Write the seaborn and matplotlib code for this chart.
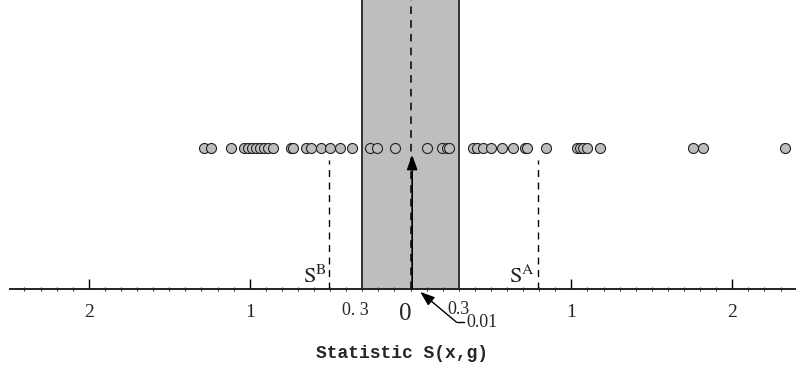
import matplotlib
matplotlib.use("Agg")
import matplotlib.pyplot as plt
import seaborn as sns
import numpy as np
import pandas as pd

# ---- data ----
stat_values = [-1.284, -1.240, -1.116, -1.035, -1.010, -0.985, -0.960, -0.935,
               -0.910, -0.886, -0.854, -0.742, -0.730, -0.649, -0.618, -0.556,
               -0.500, -0.438, -0.363, -0.251, -0.208, -0.095,
               0.104, 0.197, 0.228, 0.241, 0.390, 0.415, 0.452, 0.502, 0.571,
               0.639, 0.714, 0.726, 0.844, 1.037, 1.056, 1.075, 1.100, 1.180,
               1.759, 1.815, 2.325]
band_limits = [-0.3, 0.3]
s_b = -0.506
s_a = 0.79
observed = 0.01
major_ticks = [-2, -1, 1, 2]
major_labels = ["2", "1", "1", "2"]

sns.set_theme(style="white")
plt.rcParams["mathtext.fontset"] = "stix"
serif = ["Liberation Serif", "DejaVu Serif"]

fig = plt.figure(figsize=(8.01, 3.88), dpi=100)
ax = fig.add_axes([10 / 801, 1 - 289 / 388, 785 / 801, 289 / 388])
ax.set_xlim(-2.49, 2.39)
ax.set_ylim(0, 1)

point_y = 0.488
df = pd.DataFrame({"S": stat_values, "y": [point_y] * len(stat_values)})

ax.axvspan(band_limits[0], band_limits[1], color="#bebebe", zorder=0, lw=0)
for b in band_limits:
    ax.axvline(b, color="#333333", lw=1.4, zorder=1)

ax.axvline(0, color="black", lw=1.1, ls=(0, (5, 4)), zorder=2)

sns.scatterplot(data=df, x="S", y="y", ax=ax, s=52, color="#bdbdbd",
                edgecolor="#222222", linewidth=0.8, zorder=5, legend=False)

line_top = 0.446
for v in (s_b, s_a):
    ax.plot([v, v], [0, line_top], color="black", lw=1.0, ls=(0, (5, 4)), zorder=2)

ax.annotate("", xy=(observed, 0.464), xytext=(observed, 0.0),
            arrowprops=dict(arrowstyle="-|>,head_length=0.55,head_width=0.2",
                            color="black", lw=1.2,
                            mutation_scale=16, shrinkA=0, shrinkB=0),
            zorder=6)

# axis styling
for side in ("left", "right", "top"):
    ax.spines[side].set_visible(False)
ax.spines["bottom"].set_color("#222222")
ax.spines["bottom"].set_linewidth(1.4)
ax.set_yticks([])
ax.set_xticks(major_ticks)
ax.set_xticklabels(major_labels, fontfamily=serif, fontsize=14)
ax.set_xticks(np.arange(-2.4, 2.35, 0.1), minor=True)
ax.tick_params(axis="x", which="major", direction="in", length=7, width=1,
               color="black", pad=11, bottom=True)
ax.tick_params(axis="x", which="minor", direction="inout", length=3, width=0.8,
               color="#333333", bottom=True)
ax.set_ylabel("")
ax.set_xlabel("Statistic S(x,g)", fontfamily=["Liberation Mono", "DejaVu Sans Mono"],
              fontweight="bold", fontsize=13, labelpad=17)

trans = ax.get_xaxis_transform()
ax.text(-0.34, -0.075, "0. 3", fontfamily=serif, fontsize=13, ha="center", va="center",
        transform=trans)
ax.text(0.3, -0.072, "0.3", fontfamily=serif, fontsize=13, ha="center", va="center",
        transform=trans)
ax.text(-0.03, -0.085, "0", fontfamily=serif, fontsize=18, ha="center", va="center",
        transform=trans)

ax.text(s_b - 0.015, 0.02, r"$\mathrm{S}^{\mathrm{B}}$", fontsize=16, ha="right",
        va="baseline", transform=trans)
ax.text(s_a - 0.015, 0.02, r"$\mathrm{S}^{\mathrm{A}}$", fontsize=16, ha="right",
        va="baseline", transform=trans)

# label for the observed value
ax.annotate("", xy=(0.06, -0.01), xytext=(0.286, -0.115),
            xycoords=trans, textcoords=trans,
            arrowprops=dict(arrowstyle="-|>,head_length=0.55,head_width=0.2",
                            color="black", lw=1.0,
                            mutation_scale=16, shrinkA=0, shrinkB=0),
            annotation_clip=False)
ax.plot([0.286, 0.33], [-0.115, -0.115], color="black", lw=1.0, transform=trans,
        clip_on=False)
ax.text(0.35, -0.115, "0.01", fontfamily=serif, fontsize=13, ha="left", va="center",
        transform=trans)

fig.savefig("out.png", dpi=100)
